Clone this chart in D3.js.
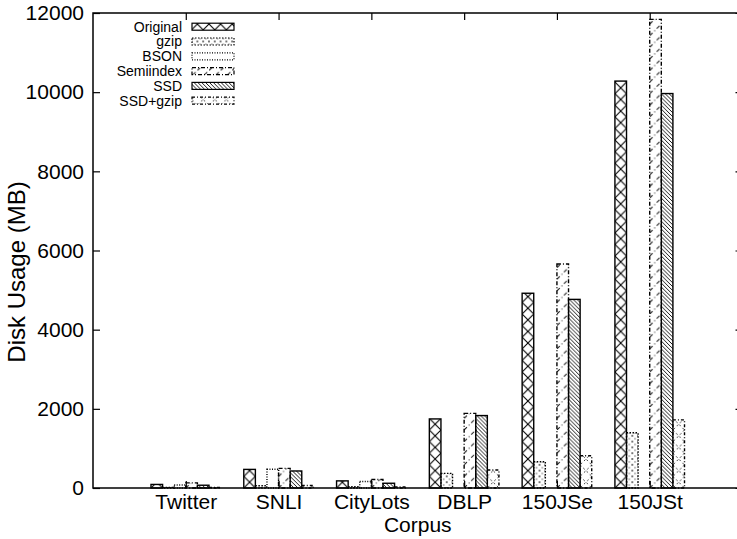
<!DOCTYPE html>
<html>
<head>
<meta charset="utf-8">
<script src="https://cdn.jsdelivr.net/npm/d3@7"></script>
<style>
  html, body { margin: 0; padding: 0; background: #fff; }
  svg { display: block; font-family: "Liberation Sans", Arial, Helvetica, sans-serif; }
</style>
</head>
<body>
<svg id="chart" width="737" height="539"></svg>
<script>
// Disk usage per corpus and storage format (MB)
const categories = ["Twitter", "SNLI", "CityLots", "DBLP", "150JSe", "150JSt"];
const seriesNames = ["Original", "gzip", "BSON", "Semiindex", "SSD", "SSD+gzip"];
const original  = [90, 470, 180, 1745, 4920, 10280];
const gzip      = [15, 55, 35, 370, 665, 1395];
const bson      = [75, 475, 165, null, null, null];
const semiindex = [130, 495, 215, 1885, 5660, 11840];
const ssd       = [70, 430, 120, 1830, 4765, 9965];
const ssdGzip   = [12, 65, 25, 455, 815, 1720];
const yTicks = [0, 2000, 4000, 6000, 8000, 10000, 12000];

const seriesValues = [original, gzip, bson, semiindex, ssd, ssdGzip];

const svg = d3.select("#chart");
const plotLeft = 93, plotRight = 742.5, plotTop = 13, plotBottom = 488;

const x = d3.scaleLinear().domain([-1, categories.length]).range([plotLeft, plotRight]);
const y = d3.scaleLinear().domain([0, 12000]).range([plotBottom, plotTop]);
const step = x(1) - x(0);
const barW = step / 8;
const inner = d3.scaleBand().domain(seriesNames).range([-3 * barW, 3 * barW]).padding(0);

// Fill patterns, one per format, aligned to the bar grid
const defs = svg.append("defs");
const px0 = x(0) - 3 * barW;

function pat(id, size) {
  return defs.append("pattern").attr("id", id)
    .attr("patternUnits", "userSpaceOnUse")
    .attr("x", px0).attr("y", plotBottom)
    .attr("width", size).attr("height", size);
}
{ // Original: cross-hatch
  const p = pat("p-original", barW);
  p.append("path").attr("d", `M0,0L${barW},${barW}M${barW},0L0,${barW}`)
    .attr("stroke", "#000").attr("stroke-width", 1.1).attr("fill", "none");
}
{ // gzip: dotted hatch
  const s = barW / 2;
  const p = pat("p-gzip", s);
  p.append("path").attr("d", `M0,${s}L${s},0M0,0L${s},${s}`)
    .attr("stroke", "#333").attr("stroke-width", 0.9).attr("stroke-dasharray", "1,2.5").attr("fill", "none");
}
{ // Semiindex: sparse dash-dot forward slashes
  const p = pat("p-semi", barW);
  p.append("path").attr("d", `M0,${barW}L${barW},0`)
    .attr("stroke", "#000").attr("stroke-width", 1).attr("stroke-dasharray", "4,2.5,1,2.5").attr("fill", "none");
}
{ // SSD: dense back slashes
  const s = barW / 3;
  const p = pat("p-ssd", s);
  p.append("path").attr("d", `M0,0L${s},${s}M${-s},0L0,${s}M${s},0L${2 * s},${s}`)
    .attr("stroke", "#000").attr("stroke-width", 0.9).attr("fill", "none");
}
{ // SSD+gzip: dashed cross-hatch
  const p = pat("p-ssdgzip", barW);
  p.append("path").attr("d", `M0,0L${barW},${barW}M${barW},0L0,${barW}`)
    .attr("stroke", "#222").attr("stroke-width", 0.9).attr("stroke-dasharray", "2,2.5").attr("fill", "none");
}

const styles = [
  { fill: "url(#p-original)", dash: null },
  { fill: "url(#p-gzip)", dash: "1.5,1.5" },
  { fill: "#fff", dash: "1,1.5" },
  { fill: "url(#p-semi)", dash: "4,2,1,2" },
  { fill: "url(#p-ssd)", dash: null },
  { fill: "url(#p-ssdgzip)", dash: "3,2,1,2" }
];

// Bars
const groups = svg.append("g");
seriesNames.forEach((name, j) => {
  const vals = seriesValues[j];
  groups.append("g").selectAll("rect")
    .data(vals.map((v, i) => ({ i, v })).filter(d => d.v != null))
    .join("rect")
    .attr("x", d => x(d.i) + inner(name))
    .attr("width", inner.bandwidth())
    .attr("y", d => y(d.v))
    .attr("height", d => plotBottom - y(d.v))
    .attr("fill", styles[j].fill)
    .attr("stroke", "#000")
    .attr("stroke-width", 1.4)
    .attr("stroke-dasharray", styles[j].dash);
});

// Axes
const fs = 21;
const gy = svg.append("g").attr("transform", `translate(${plotLeft},0)`)
  .call(d3.axisLeft(y).tickValues(yTicks).tickSize(-7).tickPadding(9).tickFormat(d3.format("d")));
const gyr = svg.append("g").attr("transform", `translate(${plotRight},0)`)
  .call(d3.axisRight(y).tickValues(yTicks).tickSize(-7).tickFormat(""));
const gx = svg.append("g").attr("transform", `translate(0,${plotBottom})`)
  .call(d3.axisBottom(x).tickValues(d3.range(categories.length)).tickSize(-7).tickPadding(6)
    .tickFormat(i => categories[i]));
const gxt = svg.append("g").attr("transform", `translate(0,${plotTop})`)
  .call(d3.axisTop(x).tickValues(d3.range(categories.length)).tickSize(-7).tickFormat(""));

[gy, gyr, gx, gxt].forEach(g => {
  g.select(".domain").remove();
  g.selectAll("line").attr("stroke", "#000").attr("stroke-width", 1.2);
  g.selectAll("text").attr("font-size", fs).attr("font-family", "Liberation Sans, Arial, sans-serif").attr("fill", "#000");
});

// Frame
svg.append("rect").attr("x", plotLeft).attr("y", plotTop)
  .attr("width", plotRight - plotLeft).attr("height", plotBottom - plotTop)
  .attr("fill", "none").attr("stroke", "#000").attr("stroke-width", 1.5);

// Axis titles
svg.append("text").attr("x", (plotLeft + plotRight) / 2).attr("y", 532)
  .attr("text-anchor", "middle").attr("font-size", fs).text("Corpus");
svg.append("text").attr("transform", `translate(25,272) rotate(-90)`)
  .attr("text-anchor", "middle").attr("font-size", 24).text("Disk Usage (MB)");

// Legend
const lg = svg.append("g");
seriesNames.forEach((name, j) => {
  const ry = 26.7 + j * 14.8;
  lg.append("text").attr("x", 182).attr("y", ry).attr("dy", "0.35em")
    .attr("text-anchor", "end").attr("font-size", 14).text(name);
  lg.append("rect").attr("x", 192).attr("y", ry - 3.5).attr("width", 42).attr("height", 7)
    .attr("fill", styles[j].fill).attr("stroke", "#000").attr("stroke-width", 1.2)
    .attr("stroke-dasharray", styles[j].dash);
});
</script>
</body>
</html>
